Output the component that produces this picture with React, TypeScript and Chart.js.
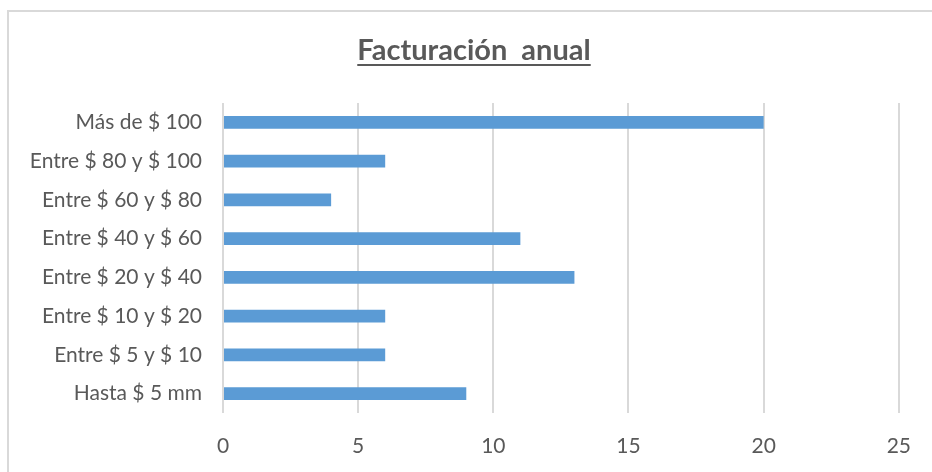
import React, { useEffect, useRef } from "react";
import { Chart, registerables } from "chart.js";

Chart.register(...registerables);

// Billing ranges, top to bottom, and the count for each range
const categories = [
  "Más de $ 100",
  "Entre $ 80 y $ 100",
  "Entre $ 60 y $ 80",
  "Entre $ 40 y $ 60",
  "Entre $ 20 y $ 40",
  "Entre $ 10 y $ 20",
  "Entre $ 5 y $ 10",
  "Hasta $ 5 mm",
];
const values = [20, 6, 4, 11, 13, 6, 6, 9];
const xTicks = [0, 5, 10, 15, 20, 25];
const titleText = "Facturación  anual";

const FONT = "Lato, 'Open Sans', sans-serif";
const TEXT = "#595959";
const GRID = "#d9d9d9";
const BAR = "#5b9bd5";

// White page with the light frame of the chart box
const framePlugin = {
  id: "frame",
  beforeDraw(chart: any) {
    const { ctx, width, height } = chart;
    ctx.save();
    ctx.fillStyle = "#ffffff";
    ctx.fillRect(0, 0, width, height);
    ctx.strokeStyle = GRID;
    ctx.lineWidth = 2;
    ctx.strokeRect(8, 11, width + 20, height + 20);
    ctx.restore();
  },
};

// Bold, underlined heading
const titlePlugin = {
  id: "underlinedTitle",
  afterDraw(chart: any) {
    const { ctx } = chart;
    ctx.save();
    ctx.font = `bold 29px ${FONT}`;
    ctx.fillStyle = TEXT;
    ctx.textAlign = "center";
    ctx.textBaseline = "alphabetic";
    const cx = 474;
    const baseY = 60;
    ctx.fillText(titleText, cx, baseY);
    const w = ctx.measureText(titleText).width;
    ctx.fillRect(cx - w / 2, baseY + 4, w, 2);
    ctx.restore();
  },
};

function BarChart() {
  const ref = useRef<HTMLCanvasElement | null>(null);

  useEffect(() => {
    if (!ref.current) return;
    const chart = new Chart(ref.current, {
      type: "bar",
      data: {
        labels: categories,
        datasets: [
          {
            data: values,
            backgroundColor: BAR,
            borderWidth: 0,
            categoryPercentage: 1,
            barPercentage: 0.33,
          },
        ],
      },
      options: {
        indexAxis: "y",
        animation: false,
        responsive: false,
        maintainAspectRatio: false,
        layout: { padding: { top: 103, right: 31, bottom: 0, left: 0 } },
        plugins: {
          legend: { display: false },
          tooltip: { enabled: false },
          title: { display: false },
        },
        scales: {
          x: {
            min: 0,
            max: 25,
            afterBuildTicks(scale: any) {
              scale.ticks = xTicks.map((v) => ({ value: v }));
            },
            afterFit(scale: any) {
              scale.height = 59;
            },
            grid: {
              color: GRID,
              lineWidth: 2,
              drawTicks: false,
            },
            border: { display: false },
            ticks: {
              color: TEXT,
              font: { family: FONT, size: 21 },
              padding: 21,
            },
          },
          y: {
            afterFit(scale: any) {
              scale.width = 223;
            },
            grid: { display: false, drawTicks: false },
            border: { display: false },
            ticks: {
              color: TEXT,
              font: { family: FONT, size: 21 },
              padding: 21,
            },
          },
        },
      },
      plugins: [framePlugin, titlePlugin],
    });
    return () => chart.destroy();
  }, []);

  return <canvas ref={ref} width={932} height={472} style={{ display: "block" }} />;
}

export default function App() {
  return (
    <div style={{ position: "fixed", left: 0, top: 0, width: 932, height: 472, background: "#fff" }}>
      <BarChart />
    </div>
  );
}
